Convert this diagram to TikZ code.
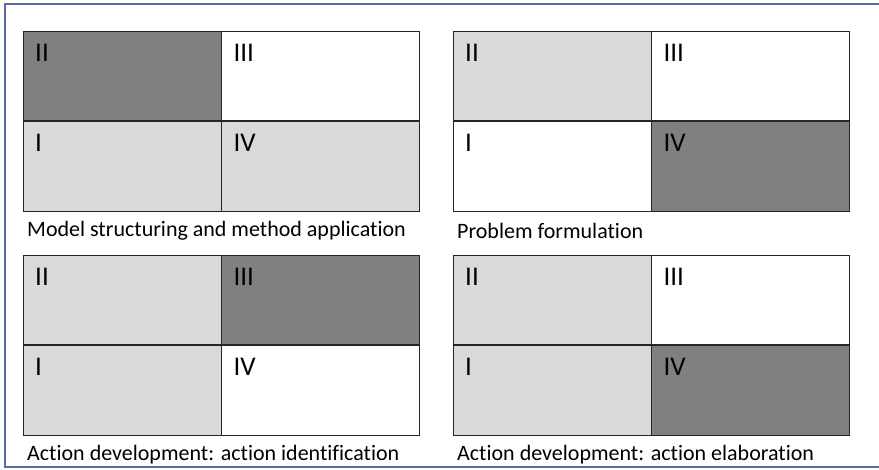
\documentclass[tikz,border=0pt]{standalone}
\usepackage{fontspec}
\setmainfont{Carlito}[Ligatures={NoCommon}]
\definecolor{darkcell}{RGB}{128,128,128}
\definecolor{lightcell}{RGB}{217,217,217}
\definecolor{framecol}{RGB}{82,112,160}

\begin{document}
\begin{tikzpicture}[
x=1pt, y=-1pt,
cell/.style={rectangle, draw=black!85, line width=0.9pt, minimum width=197.5pt, minimum height=89.5pt, anchor=north west, inner sep=0pt},
num/.style={anchor=north west, font=\fontsize{27}{27}\selectfont, inner sep=0pt, xshift=12pt, yshift=-13pt},
caption/.style={anchor=west, font=\fontsize{22}{22}\selectfont, inner sep=0pt}
]
\useasboundingbox (0,0) rectangle (879,470);
\draw[framecol, line width=1.6pt] (890,4) -- (5,4) -- (5,467) -- (890,467);

\foreach \p/\x/\y/\cII/\cIII/\cI/\cIV/\txt in {
  a/23/31/darkcell/white/lightcell/lightcell/Model structuring and method application,
  b/453/31/lightcell/white/white/darkcell/Problem formulation,
  c/23/255/lightcell/darkcell/lightcell/white/Action development: action identification,
  d/453/255/lightcell/white/lightcell/darkcell/Action development: action elaboration}
{
  \node[cell, fill=\cII] (\p II) at (\x,\y) {};
  \node[cell, fill=\cIII] (\p III) at (\p II.north east) {};
  \node[cell, fill=\cI] (\p I) at (\p II.south west) {};
  \node[cell, fill=\cIV] (\p IV) at (\p II.south east) {};
  \node[num] (\p IIt) at (\p II.north west) {II};
  \node[num] (\p IIIt) at (\p III.north west) {III};
  \node[num] (\p It) at (\p I.north west) {I};
  \node[num] (\p IVt) at (\p IV.north west) {IV};
  \node[caption] (\p cap) at ([xshift=4pt, yshift=-19pt]\p I.south west) {\txt};
}
\end{tikzpicture}
\end{document}
